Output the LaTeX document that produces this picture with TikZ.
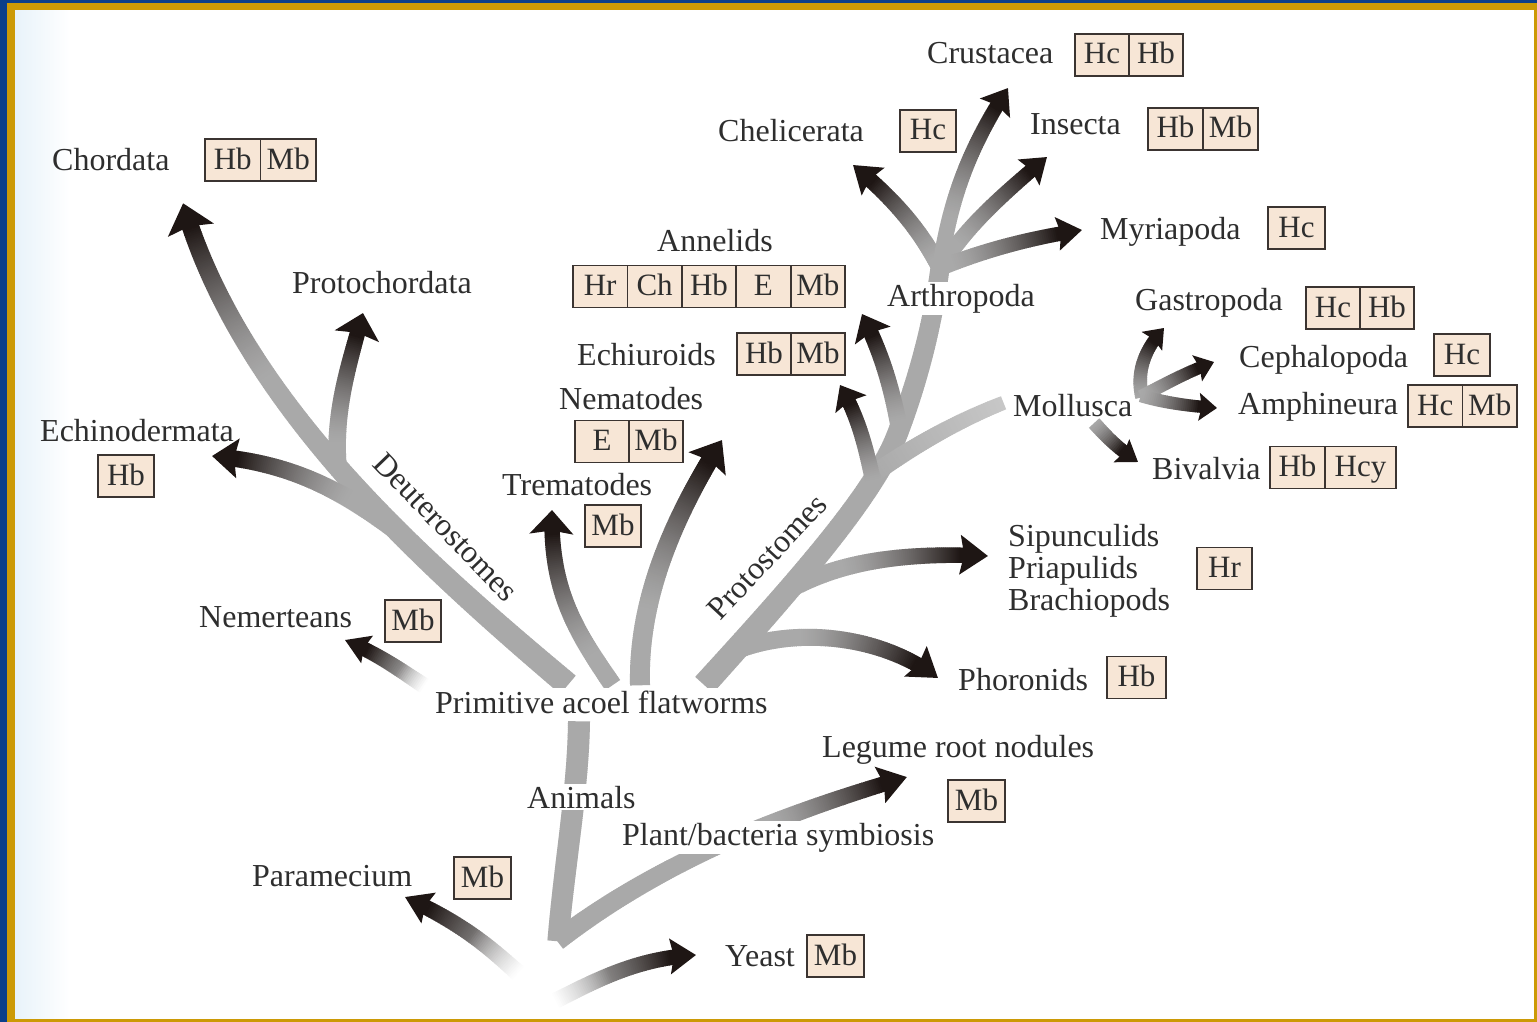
\documentclass[tikz,border=0pt]{standalone}
\usepackage{fontspec}
\setmainfont{Liberation Serif}
\usetikzlibrary{decorations.markings}
\definecolor{navy}{HTML}{0B3F8A}
\definecolor{gold}{HTML}{CC9A06}
\definecolor{trunkgray}{HTML}{A9A9A9}
\definecolor{darkbr}{HTML}{1E1614}
\definecolor{txt}{HTML}{2E2E2E}
\definecolor{cellfill}{HTML}{F7E6D6}
\definecolor{celldraw}{HTML}{3B3431}
\definecolor{leftTint}{HTML}{E8F3FA}

\newcommand\brseg{%
  \pgfmathsetmacro\brD{\pgfkeysvalueof{/pgf/decoration/mark info/distance from start}}%
  \pgfmathsetmacro\brL{\pgfdecoratedpathlength}%
  \pgfmathsetmacro\brR{\brL-\brD}%
  \ifdim\brR pt>\dimexpr\headL pt-5pt\relax
    \pgfmathsetmacro\brQ{max(0,min(1,1-(\brR-\headL)/\darkL))}%
    \pgfmathsetmacro\brK{\darkM*\brQ*sqrt(\brQ)}%
    \pgfmathsetmacro\brF{100*min(1,(\brD+1)/\fadeL)-\endLight*max(0,1-\brR/150)}%
    \pgfmathsetmacro\brW{\bwA+(\bwB-\bwA)*\brD/\brL}%
    \colorlet{brc}{darkbr!\brK!trunkgray}%
    \draw[line width=\brW pt, brc!\brF!white] (-1.3pt,0) -- (1.3pt,0);%
  \fi
}
\newcommand\brpath[2]{%
  \path[#1, branchbody] #2;
  \path[#1, branchhead] #2;
}
\newcommand\trpath[2]{%
  \path[trunkopts, #1, branchbody] #2;
}
\newcommand\cellrow[5]{%
  \foreach \ct [count=\ci] in {#5}{%
    \node[cellbox, minimum width=#4 pt] (#1-\ci) at ({#2+(\ci-1)*#4},#3) {\ct};}%
}

\tikzset{
  bwa/.store in=\bwA, bwb/.store in=\bwB,
  headl/.store in=\headL, headw/.store in=\headW,
  darkl/.store in=\darkL, fadel/.store in=\fadeL, darkm/.store in=\darkM,
  endlight/.store in=\endLight,
  bwa=22, bwb=17, headl=26, headw=22, darkl=170, fadel=1, darkm=100, endlight=0,
  trunkopts/.style={headl=0, darkm=0, darkl=100},
  branchbody/.style={decoration={markings,
      mark=between positions 0 and 1 step 2pt with {\brseg}}, decorate},
  branchhead/.style={decoration={markings,
      mark=at position 0.9995 with {\fill[darkbr] (0,0) -- (-\headL pt,\headW pt)
         -- (-0.85*\headL pt,0) -- (-\headL pt,-\headW pt) -- cycle;}}, decorate},
  lab/.style={font=\fontsize{32}{38}\selectfont, text=txt, inner sep=2pt, anchor=base west},
  wbg/.style={fill=white},
  cellbox/.style={draw=celldraw, fill=cellfill, line width=1.8pt, minimum height=42pt,
      inner sep=0pt, outer sep=0pt, text height=21pt, text depth=3pt,
      font=\fontsize{31}{36}\selectfont, text=txt, anchor=west},
}

\begin{document}
\begin{tikzpicture}[x=1pt,y=-1pt]
\useasboundingbox (0,0) rectangle (1537,1022);
% background and frame
\fill[white] (0,0) rectangle (1537,1022);
\shade[left color=leftTint, right color=white] (15,10) rectangle (70,1018);
\fill[navy] (0,0) rectangle (1537,3.5);
\fill[navy] (0,0) rectangle (7,1022);
\fill[gold] (7,3.5) rectangle (1537,10.5);
\fill[gold] (7,3.5) rectangle (15,1022);
\fill[gold] (1533.5,3.5) rectangle (1537,1022);
\fill[gold] (7,1018.5) rectangle (1537,1022);

% junctions and arrow tips
\coordinate (root) at (558,940);
\coordinate (yeastTail) at (557,1000);
\coordinate (paraTail) at (517,972);
\coordinate (animTop) at (579,722);
\coordinate (tYeast) at (696,955);
\coordinate (tPara) at (405,897);
\coordinate (tPlant) at (907,777);
\coordinate (nemTail) at (423,685);
\coordinate (tNem) at (345,640);
\coordinate (dBase) at (567,684);
\coordinate (tChord) at (183,203);
\coordinate (dEch) at (405,537);
\coordinate (tEch) at (212,456);
\coordinate (dProto) at (338,470);
\coordinate (tProto) at (363,313);
\coordinate (fTrem) at (612,684);
\coordinate (tTrem) at (552,510);
\coordinate (fNema) at (640,684);
\coordinate (tNema) at (722,440);
\coordinate (pBase) at (705,684);
\coordinate (pMid) at (895,440);
\coordinate (aBase) at (940,268);
\coordinate (pMol) at (876,472);
\coordinate (molEnd) at (1003,403);
\coordinate (pEch) at (873,480);
\coordinate (tEchiu) at (840,385);
\coordinate (pAnn) at (900,432);
\coordinate (tAnn) at (862,314);
\coordinate (pSip) at (788,590);
\coordinate (tSip) at (988,556);
\coordinate (pPho) at (742,648);
\coordinate (tPho) at (938,678);
\coordinate (tChel) at (853,165);
\coordinate (tCrus) at (1008,88);
\coordinate (tIns) at (1047,157);
\coordinate (tMyr) at (1082,230);
\coordinate (mBase) at (1142,396);
\coordinate (tGas) at (1164,328);
\coordinate (tCep) at (1214,362);
\coordinate (tAmp) at (1217,408);
\coordinate (bvTail) at (1095,424);
\coordinate (tBiv) at (1138,462);

% trunks
\trpath{bwa=21,bwb=22}{(root) .. controls (565,860) and (578,790) .. (animTop)}
\trpath{bwa=24,bwb=19}{(pBase) .. controls (790,590) and (870,500) .. (pMid) .. controls (915,390) and (932,330) .. (aBase)}
\trpath{bwa=18,bwb=14,endlight=35}{(pMol) .. controls (920,442) and (960,420) .. (molEnd)}

% arrows
\brpath{headl=26,headw=18,bwa=16,bwb=15,darkl=110,fadel=60}{(yeastTail) .. controls (600,978) and (640,958) .. (tYeast)}
\brpath{headl=26,headw=17,bwa=17,bwb=15,darkl=110,fadel=60}{(paraTail) .. controls (490,948) and (465,925) .. (tPara)}
\brpath{headl=28,headw=19,bwa=20,bwb=15,darkl=120}{(root) .. controls (650,870) and (760,820) .. (tPlant)}
\brpath{headl=24,headw=15,bwa=16,bwb=14,darkl=60,fadel=30}{(nemTail) .. controls (400,670) and (380,655) .. (tNem)}
\brpath{headl=28,headw=24,bwa=24,bwb=17,darkl=170}{(dBase) .. controls (420,560) and (240,400) .. (tChord)}
\brpath{headl=26,headw=20,bwa=19,bwb=16,darkl=120}{(dEch) .. controls (340,488) and (290,463) .. (tEch)}
\brpath{headl=24,headw=23,bwa=18,bwb=15,darkl=110}{(dProto) .. controls (333,410) and (350,362) .. (tProto)}
\brpath{headl=24,headw=22,bwa=18,bwb=15,darkl=130}{(fTrem) .. controls (575,630) and (550,590) .. (tTrem)}
\brpath{headl=28,headw=22,bwa=20,bwb=17,darkl=160}{(fNema) .. controls (638,600) and (672,520) .. (tNema)}
\brpath{headl=22,headw=18,bwa=16,bwb=14,darkl=80}{(pEch) .. controls (866,450) and (860,420) .. (tEchiu)}
\brpath{headl=24,headw=20,bwa=17,bwb=15,darkl=90}{(pAnn) .. controls (893,395) and (885,360) .. (tAnn)}
\brpath{headl=28,headw=20,bwa=18,bwb=15,darkl=120}{(pSip) .. controls (840,562) and (900,552) .. (tSip)}
\brpath{headl=28,headw=19,bwa=18,bwb=15,darkl=120}{(pPho) .. controls (800,628) and (880,635) .. (tPho)}
\brpath{headl=26,headw=18,bwa=17,bwb=15,darkl=100}{(aBase) .. controls (925,240) and (905,208) .. (tChel)}
\brpath{headl=24,headw=18,bwa=16,bwb=14,darkl=120}{(aBase) .. controls (950,200) and (968,150) .. (tCrus)}
\brpath{headl=24,headw=17,bwa=16,bwb=14,darkl=100}{(aBase) .. controls (965,230) and (990,205) .. (tIns)}
\brpath{headl=25,headw=17,bwa=16,bwb=14,darkl=110}{(aBase) .. controls (985,250) and (1030,238) .. (tMyr)}
\brpath{headl=18,headw=14,bwa=14,bwb=12,darkl=60}{(mBase) .. controls (1137,375) and (1142,352) .. (tGas)}
\brpath{headl=18,headw=14,bwa=13,bwb=12,darkl=60}{(mBase) .. controls (1162,386) and (1182,374) .. (tCep)}
\brpath{headl=18,headw=14,bwa=13,bwb=12,darkl=60}{(mBase) .. controls (1162,402) and (1186,406) .. (tAmp)}
\brpath{headl=20,headw=14,bwa=14,bwb=13,darkl=40}{(bvTail) .. controls (1106,436) and (1116,447) .. (tBiv)}

% labels
\node[lab] (chord) at (50,171) {Chordata};
\node[lab] (crus) at (925,64) {Crustacea};
\node[lab] (chel) at (716,142) {Chelicerata};
\node[lab] (insec) at (1028,135) {Insecta};
\node[lab] (myr) at (1098,239) {Myriapoda};
\node[lab] (ann) at (655,251) {Annelids};
\node[lab,wbg] (arth) at (885,306) {Arthropoda};
\node[lab] (proto) at (290,293) {Protochordata};
\node[lab] (gas) at (1133,310) {Gastropoda};
\node[lab] (echiu) at (575,365) {Echiuroids};
\node[lab] (ceph) at (1237,367) {Cephalopoda};
\node[lab] (moll) at (1011,416) {Mollusca};
\node[lab] (amph) at (1236,414) {Amphineura};
\node[lab] (nema) at (557,409) {Nematodes};
\node[lab] (echin) at (38,441) {Echinodermata};
\node[lab] (biv) at (1150,479) {Bivalvia};
\node[lab] (trem) at (500,495) {Trematodes};
\node[lab] (sip) at (1006,546) {Sipunculids};
\node[lab] (pri) at (1006,578) {Priapulids};
\node[lab] (bra) at (1006,610) {Brachiopods};
\node[lab] (nem) at (197,627) {Nemerteans};
\node[lab] (pho) at (956,690) {Phoronids};
\node[lab,wbg] (flat) at (433,713) {Primitive acoel flatworms};
\node[lab] (leg) at (820,757) {Legume root nodules};
\node[lab,wbg] (anim) at (525,808) {Animals};
\node[lab,wbg] (plant) at (620,845) {Plant/bacteria symbiosis};
\node[lab] (para) at (250,886) {Paramecium};
\node[lab] (yeast) at (723,966) {Yeast};
\node[lab, anchor=center, rotate=-46] (deut) at (446,527) {Deuterostomes};
\node[lab, anchor=center, rotate=47] (prot) at (767,557) {Protostomes};

% protein boxes
\cellrow{cChord}{205}{160}{55.5}{Hb,Mb}
\cellrow{cCrus}{1075}{55}{54}{Hc,Hb}
\cellrow{cChel}{900}{131}{56}{Hc}
\cellrow{cIns}{1148}{129}{55}{Hb,Mb}
\cellrow{cMyr}{1268}{228}{57}{Hc}
\cellrow{cAnn}{573}{286.5}{54.4}{Hr,Ch,Hb,E,Mb}
\cellrow{cGas}{1306}{308}{54}{Hc,Hb}
\cellrow{cEchiu}{737}{354}{54}{Hb,Mb}
\cellrow{cCeph}{1434}{355}{56}{Hc}
\cellrow{cAmph}{1408}{406}{54.5}{Hc,Mb}
\cellrow{cNema}{575}{441.5}{54}{E,Mb}
\cellrow{cEchin}{98}{476}{56}{Hb}
\cellrow{cBivA}{1270}{467.5}{55}{Hb}
\cellrow{cBivB}{1325}{467.5}{71}{Hcy}
\cellrow{cTrem}{585}{526}{56}{Mb}
\cellrow{cSip}{1197}{568.5}{55}{Hr}
\cellrow{cNem}{385}{621}{56}{Mb}
\cellrow{cPho}{1107}{677.5}{59}{Hb}
\cellrow{cLeg}{948}{801}{57}{Mb}
\cellrow{cPara}{454}{878}{57}{Mb}
\cellrow{cYeast}{807}{956}{57}{Mb}
\end{tikzpicture}
\end{document}
